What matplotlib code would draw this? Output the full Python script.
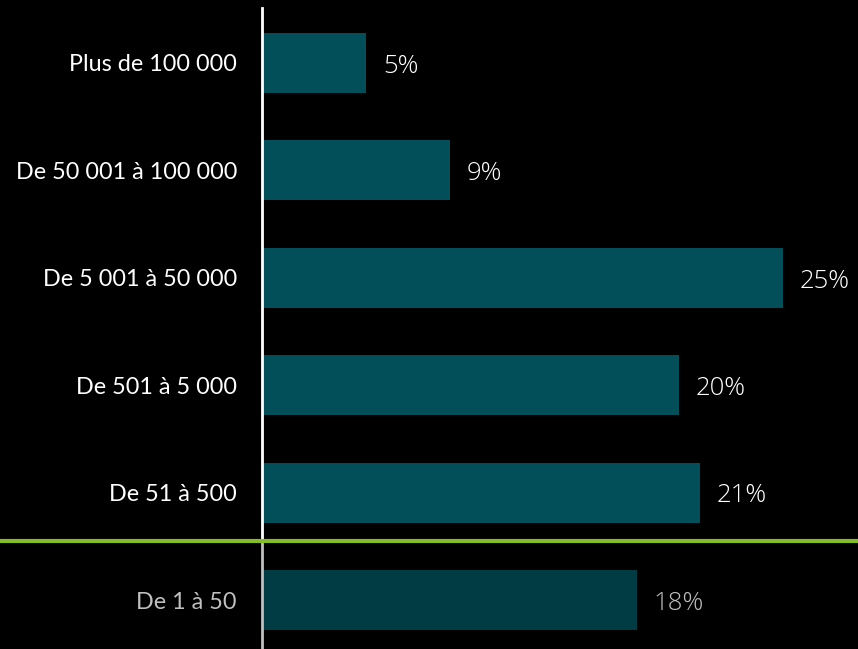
import matplotlib.pyplot as plt

categories = ["Plus de 100 000", "De 50 001 à 100 000", "De 5 001 à 50 000",
              "De 501 à 5 000", "De 51 à 500", "De 1 à 50"]
shares = [5, 9, 25, 20, 21, 18]

BAR = "#024E59"
BAR_LOW = "#013C45"
GREEN = "#84BD27"
GREY = "#BFBFBF"

plt.rcParams["font.family"] = ["Lato", "DejaVu Sans"]

fig = plt.figure(figsize=(8.58, 6.49), dpi=100, facecolor="black")
ax = fig.add_axes([262 / 858, 0, (858 - 262) / 858, (649 - 8) / 649])
ax.set_facecolor("black")

ypos = list(range(len(categories)))
colors = [BAR] * (len(categories) - 1) + [BAR_LOW]
ax.barh(ypos, shares, height=0.56, color=colors)

ax.set_xlim(0, 28.6)
ax.set_ylim(5.456, -0.512)

# value labels after each bar, in a thin face
for i, v in enumerate(shares):
    col = GREY if i == len(shares) - 1 else "white"
    ax.text(v + 0.8, i + 0.03, f"{v}%", va="center", ha="left", color=col,
            fontsize=18.5, family=["Open Sans", "DejaVu Sans"], fontweight=300)

ax.set_yticks(ypos)
ax.set_yticklabels(categories, fontsize=16.8)
for i, lab in enumerate(ax.get_yticklabels()):
    lab.set_color(GREY if i == len(categories) - 1 else "white")
ax.tick_params(axis="y", length=0, pad=18)
ax.set_xticks([])

for s in ["top", "right", "bottom", "left"]:
    ax.spines[s].set_visible(False)

# vertical axis: white above the separator, grey below
sep = 4.45
ax.plot([0, 0], [-0.512, sep], color="white", lw=2, clip_on=False, zorder=3)
ax.plot([0, 0], [sep, 5.456], color=GREY, lw=2, clip_on=False, zorder=3)

# green separator across the full width
fig.add_artist(plt.Line2D([0, 1], [1 - 541 / 649] * 2, color=GREEN, lw=3,
                          transform=fig.transFigure))

fig.savefig("out.png", dpi=100, facecolor="black")
